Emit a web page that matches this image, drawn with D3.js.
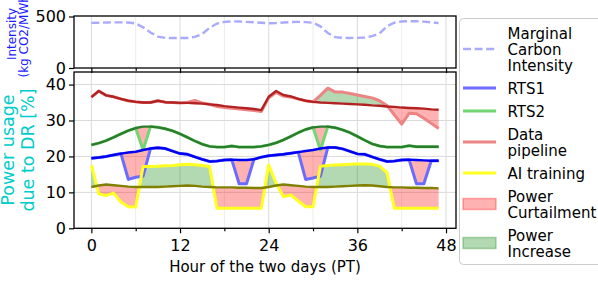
<!DOCTYPE html>
<html>
<head>
<meta charset="utf-8">
<script src="https://cdn.jsdelivr.net/npm/d3@7/dist/d3.min.js"></script>
<style>
  body { margin: 0; background: #fff; }
  svg { display: block; font-family: "DejaVu Sans", sans-serif; }
</style>
</head>
<body>
<div id="main"></div>
<script>
// hour index of the two days
var hours = d3.range(0, 48);

// marginal carbon intensity (kg CO2/MWh)
var carbon = [438, 440, 442, 443, 443, 442, 432, 395, 345, 305, 292, 291, 291, 292, 302, 330, 390, 432, 448, 453, 452, 448, 444, 440,
              434, 436, 442, 446, 448, 446, 440, 405, 340, 300, 293, 292, 293, 296, 310, 336, 405, 440, 452, 454, 454, 450, 444, 436];

// power usage, baseline and with DR (%)
var rts1Base = [19.5, 19.7, 20.0, 20.4, 20.8, 21.1, 21.3, 21.8, 22.2, 22.4, 22.2, 21.5, 20.8, 20.6, 19.9, 19.2, 18.6, 18.7, 19.0, 19.1, 19.0, 19.0, 19.2, 19.8,
                20.2, 20.4, 20.6, 20.9, 21.2, 21.5, 21.8, 22.2, 22.5, 22.5, 22.1, 21.4, 20.7, 20.6, 19.9, 19.2, 18.6, 18.7, 19.0, 19.1, 19.0, 18.9, 18.8, 18.8];
var rts1DR   = [19.5, 19.7, 20.0, 20.4, 20.8, 13.6, 14.2, 14.5, 22.2, 22.4, 22.2, 21.5, 20.8, 20.6, 19.9, 19.2, 18.6, 18.7, 19.0, 19.1, 12.4, 12.4, 19.2, 19.8,
                20.2, 20.4, 20.6, 20.9, 21.2, 13.6, 14.0, 14.5, 22.5, 22.5, 22.1, 21.4, 20.7, 20.6, 19.9, 19.2, 18.6, 18.7, 19.0, 19.1, 12.4, 12.4, 18.8, 18.8];

var rts2Base = [23.2, 23.7, 24.4, 25.3, 26.3, 27.2, 27.9, 28.3, 28.3, 28.1, 27.7, 27.1, 26.3, 25.3, 24.3, 23.4, 22.8, 22.6, 22.6, 22.9, 22.6, 22.6, 22.6, 22.8,
                23.2, 23.8, 24.6, 25.6, 26.6, 27.5, 28.1, 28.3, 28.3, 28.0, 27.4, 26.6, 25.6, 24.5, 23.5, 22.9, 22.6, 22.6, 22.6, 23.0, 22.7, 22.7, 22.7, 22.7];
var rts2DR   = [23.2, 23.7, 24.4, 25.3, 26.3, 27.2, 27.9, 21.8, 28.3, 28.1, 27.7, 27.1, 26.3, 25.3, 24.3, 23.4, 22.8, 22.6, 22.6, 22.9, 22.6, 22.6, 22.6, 22.8,
                23.2, 23.8, 24.6, 25.6, 26.6, 27.5, 28.1, 21.8, 28.3, 28.0, 27.4, 26.6, 25.6, 24.5, 23.5, 22.9, 22.6, 22.6, 22.6, 23.0, 22.7, 22.7, 22.7, 22.7];

var pipeBase = [36.5, 38.2, 37.0, 36.6, 36.0, 35.5, 35.2, 35.0, 35.0, 35.5, 35.1, 35.0, 34.9, 34.9, 34.8, 34.7, 34.5, 34.3, 34.0, 33.8, 33.6, 33.4, 33.2, 32.9,
                36.6, 38.2, 37.1, 36.7, 36.0, 35.5, 35.2, 35.0, 34.9, 34.8, 34.7, 34.6, 34.5, 34.4, 34.2, 34.1, 33.9, 33.8, 33.6, 33.5, 33.4, 33.3, 33.1, 33.0];
var pipeDR   = [36.5, 38.2, 37.0, 36.6, 36.0, 35.5, 35.2, 35.0, 35.0, 35.5, 35.1, 35.0, 34.9, 35.0, 35.6, 34.9, 34.5, 33.9, 33.6, 33.4, 33.2, 33.0, 32.8, 32.5,
                36.3, 37.8, 36.8, 36.5, 36.0, 35.5, 35.2, 37.0, 39.0, 37.9, 37.9, 37.5, 37.1, 36.7, 36.3, 35.5, 34.2, 31.6, 29.0, 32.0, 31.9, 30.6, 29.2, 27.8];

var aiBase = [11.5, 11.9, 12.2, 12.0, 11.8, 11.6, 11.5, 11.5, 11.5, 11.5, 11.6, 11.7, 11.8, 11.9, 11.8, 11.6, 11.5, 11.4, 11.4, 11.4, 11.3, 11.3, 11.2, 11.2,
              11.5, 11.9, 12.2, 12.0, 11.8, 11.6, 11.5, 11.5, 11.5, 11.6, 11.7, 11.8, 11.9, 12.0, 11.9, 11.7, 11.5, 11.4, 11.4, 11.3, 11.3, 11.2, 11.2, 11.1];
var aiDR   = [17.6, 9.6, 9.1, 9.8, 7.3, 6.0, 5.9, 17.2, 17.2, 17.3, 17.4, 17.5, 17.7, 17.8, 17.7, 17.5, 17.2, 5.6, 5.6, 5.6, 5.6, 5.6, 5.6, 5.6,
              17.6, 12.6, 8.8, 9.3, 7.6, 6.0, 6.0, 17.3, 17.5, 17.6, 17.7, 17.8, 17.9, 17.9, 17.8, 17.3, 15.5, 5.6, 5.6, 5.6, 5.6, 5.6, 5.6, 5.6];

var xTicks = [0, 12, 24, 36, 48];
var xMinorTicks = [6, 18, 30, 42];
var topYTicks = [0, 500];
var botYTicks = [0, 10, 20, 30, 40];

var loads = [
  {name: "RTS1", base: rts1Base, dr: rts1DR, baseColor: "#0000f0", drColor: "#6b6bff"},
  {name: "RTS2", base: rts2Base, dr: rts2DR, baseColor: "#2a7d2a", drColor: "#72d672"},
  {name: "Data pipeline", base: pipeBase, dr: pipeDR, baseColor: "#b22222", drColor: "#ec8484"},
  {name: "AI training", base: aiBase, dr: aiDR, baseColor: "#808000", drColor: "#ffff22"}
];

var W = 598, H = 286;
var svg = d3.select("#main").append("svg")
  .attr("width", W)
  .attr("height", H);

svg.append("rect").attr("width", W).attr("height", H).attr("fill", "#fff");

var left = 74, right = 456;
var topBox = {y0: 16, y1: 68};
var botBox = {y0: 72, y1: 228.3};

var x = d3.scaleLinear().domain([-2.35, 49.35]).range([left, right]);
var yTop = d3.scaleLinear().domain([0, 505]).range([topBox.y1, topBox.y0]);
var yBot = d3.scaleLinear().domain([0, 43.5]).range([botBox.y1, botBox.y0]);

// grid
function vgrid(box) {
  var g = svg.append("g");
  g.selectAll(".minor").data(xMinorTicks).enter().append("line")
    .attr("x1", d => x(d)).attr("x2", d => x(d))
    .attr("y1", box.y0).attr("y2", box.y1)
    .attr("stroke", "#ececec").attr("stroke-width", 1);
  g.selectAll(".major").data(xTicks).enter().append("line")
    .attr("x1", d => x(d)).attr("x2", d => x(d))
    .attr("y1", box.y0).attr("y2", box.y1)
    .attr("stroke", "#dadada").attr("stroke-width", 1);
}
vgrid(topBox);
vgrid(botBox);
svg.append("g").selectAll("line").data(botYTicks).enter().append("line")
  .attr("x1", left).attr("x2", right)
  .attr("y1", d => yBot(d)).attr("y2", d => yBot(d))
  .attr("stroke", "#dadada").attr("stroke-width", 1);

// carbon intensity
svg.append("path")
  .datum(hours)
  .attr("fill", "none")
  .attr("stroke", "#aaaaff")
  .attr("stroke-width", 2.4)
  .attr("stroke-dasharray", "8,3.6")
  .attr("d", d3.line().x(h => x(h)).y(h => yTop(carbon[h])));

// split the gap between two lines into curtailment / increase pieces
function pieces(base, dr) {
  var pts = [];
  for (var i = 0; i < hours.length; i++) {
    if (i > 0) {
      var d0 = dr[i - 1] - base[i - 1], d1 = dr[i] - base[i];
      if (d0 * d1 < 0) {
        var t = d0 / (d0 - d1);
        var yc = base[i - 1] + t * (base[i] - base[i - 1]);
        pts.push({h: hours[i - 1] + t, b: yc, m: yc});
      }
    }
    pts.push({h: hours[i], b: base[i], m: dr[i]});
  }
  return pts;
}

var fills = svg.append("g");
loads.forEach(function(l) {
  var pts = pieces(l.base, l.dr);
  fills.append("path").datum(pts)
    .attr("fill", "rgba(255,0,0,0.3)")
    .attr("d", d3.area().x(p => x(p.h)).y0(p => yBot(p.b)).y1(p => yBot(Math.min(p.m, p.b))));
  fills.append("path").datum(pts)
    .attr("fill", "rgba(0,128,0,0.3)")
    .attr("d", d3.area().x(p => x(p.h)).y0(p => yBot(p.b)).y1(p => yBot(Math.max(p.m, p.b))));
});

// DR lines, then baselines on top
loads.forEach(function(l) {
  svg.append("path").datum(hours)
    .attr("fill", "none").attr("stroke", l.drColor).attr("stroke-width", 3)
    .attr("stroke-linejoin", "round")
    .attr("d", d3.line().x(h => x(h)).y(h => yBot(l.dr[h])));
});
loads.forEach(function(l) {
  svg.append("path").datum(hours)
    .attr("fill", "none").attr("stroke", l.baseColor).attr("stroke-width", 2.4)
    .attr("stroke-linejoin", "round")
    .attr("d", d3.line().x(h => x(h)).y(h => yBot(l.base[h])));
});

// axes
var topXAxis = svg.append("g").attr("transform", "translate(0," + topBox.y1 + ")")
  .call(d3.axisBottom(x).tickValues(xTicks).tickSize(5).tickFormat(""));
var topXMinor = svg.append("g").attr("transform", "translate(0," + topBox.y1 + ")")
  .call(d3.axisBottom(x).tickValues(xMinorTicks).tickSize(3).tickFormat(""));
var botXAxis = svg.append("g").attr("transform", "translate(0," + botBox.y1 + ")")
  .call(d3.axisBottom(x).tickValues(xTicks).tickSize(5).tickPadding(6));
var botXMinor = svg.append("g").attr("transform", "translate(0," + botBox.y1 + ")")
  .call(d3.axisBottom(x).tickValues(xMinorTicks).tickSize(3).tickFormat(""));
var topYAxis = svg.append("g").attr("transform", "translate(" + left + ",0)")
  .call(d3.axisLeft(yTop).tickValues(topYTicks).tickSize(5).tickPadding(3));
var botYAxis = svg.append("g").attr("transform", "translate(" + left + ",0)")
  .call(d3.axisLeft(yBot).tickValues(botYTicks).tickSize(5).tickPadding(3));

[topXAxis, topXMinor, botXAxis, botXMinor, topYAxis, botYAxis].forEach(function(a) {
  a.select(".domain").remove();
  a.selectAll(".tick line").attr("stroke", "#000").attr("stroke-width", 1.2);
  a.selectAll("text").attr("fill", "#000").style("font-size", "16px")
    .style("font-family", "DejaVu Sans, sans-serif");
});

// frames
[topBox, botBox].forEach(function(b) {
  svg.append("rect")
    .attr("x", left).attr("y", b.y0)
    .attr("width", right - left).attr("height", b.y1 - b.y0)
    .attr("fill", "none").attr("stroke", "#000").attr("stroke-width", 1.3);
});

// labels
svg.append("text")
  .attr("x", (left + right) / 2).attr("y", 272)
  .attr("text-anchor", "middle").style("font-size", "15px")
  .text("Hour of the two days (PT)");

[["Power usage", 13.5], ["due to DR [%]", 34]].forEach(function(t) {
  svg.append("text")
    .attr("transform", "translate(" + t[1] + ",150) rotate(-90)")
    .attr("text-anchor", "middle").attr("fill", "#00cccc").style("font-size", "17.5px")
    .text(t[0]);
});
[["Intensity", 16], ["(kg CO2/MWh)", 27.5]].forEach(function(t) {
  svg.append("text")
    .attr("transform", "translate(" + t[1] + ",34) rotate(-90)")
    .attr("text-anchor", "middle").attr("fill", "#1a1aff").style("font-size", "12px")
    .text(t[0]);
});

// legend
var legend = svg.append("g");
legend.append("rect")
  .attr("x", 459.5).attr("y", 18.5).attr("width", 160).attr("height", 246)
  .attr("rx", 4).attr("fill", "rgba(255,255,255,0.8)")
  .attr("stroke", "#cccccc").attr("stroke-width", 1);

var legendItems = [
  {lines: ["Marginal", "Carbon", "Intensity"], kind: "dash", color: "#aaaaff"},
  {lines: ["RTS1"], kind: "line", color: loads[0].drColor},
  {lines: ["RTS2"], kind: "line", color: loads[1].drColor},
  {lines: ["Data", "pipeline"], kind: "line", color: loads[2].drColor},
  {lines: ["AI training"], kind: "line", color: loads[3].drColor},
  {lines: ["Power", "Curtailment"], kind: "patch", color: "rgba(255,0,0,0.3)"},
  {lines: ["Power", "Increase"], kind: "patch", color: "rgba(0,128,0,0.3)"}
];
var lineH = 16, gap = 7, cursor = 25;
legendItems.forEach(function(item) {
  var hgt = item.lines.length * lineH;
  var cy = cursor + hgt / 2;
  if (item.kind === "patch") {
    legend.append("rect")
      .attr("x", 463).attr("y", cy - 5.5).attr("width", 33).attr("height", 11)
      .attr("fill", item.color).attr("stroke", item.color).attr("stroke-width", 1.5);
  } else {
    legend.append("line")
      .attr("x1", 463).attr("x2", 496).attr("y1", cy).attr("y2", cy)
      .attr("stroke", item.color)
      .attr("stroke-width", item.kind === "dash" ? 2.4 : 3)
      .attr("stroke-dasharray", item.kind === "dash" ? "8,3.6" : null);
  }
  item.lines.forEach(function(t, i) {
    legend.append("text")
      .attr("x", 507.5)
      .attr("y", cy + (i - (item.lines.length - 1) / 2) * lineH + 5.5)
      .style("font-size", "15px")
      .text(t);
  });
  cursor += hgt + gap;
});
</script>
</body>
</html>
